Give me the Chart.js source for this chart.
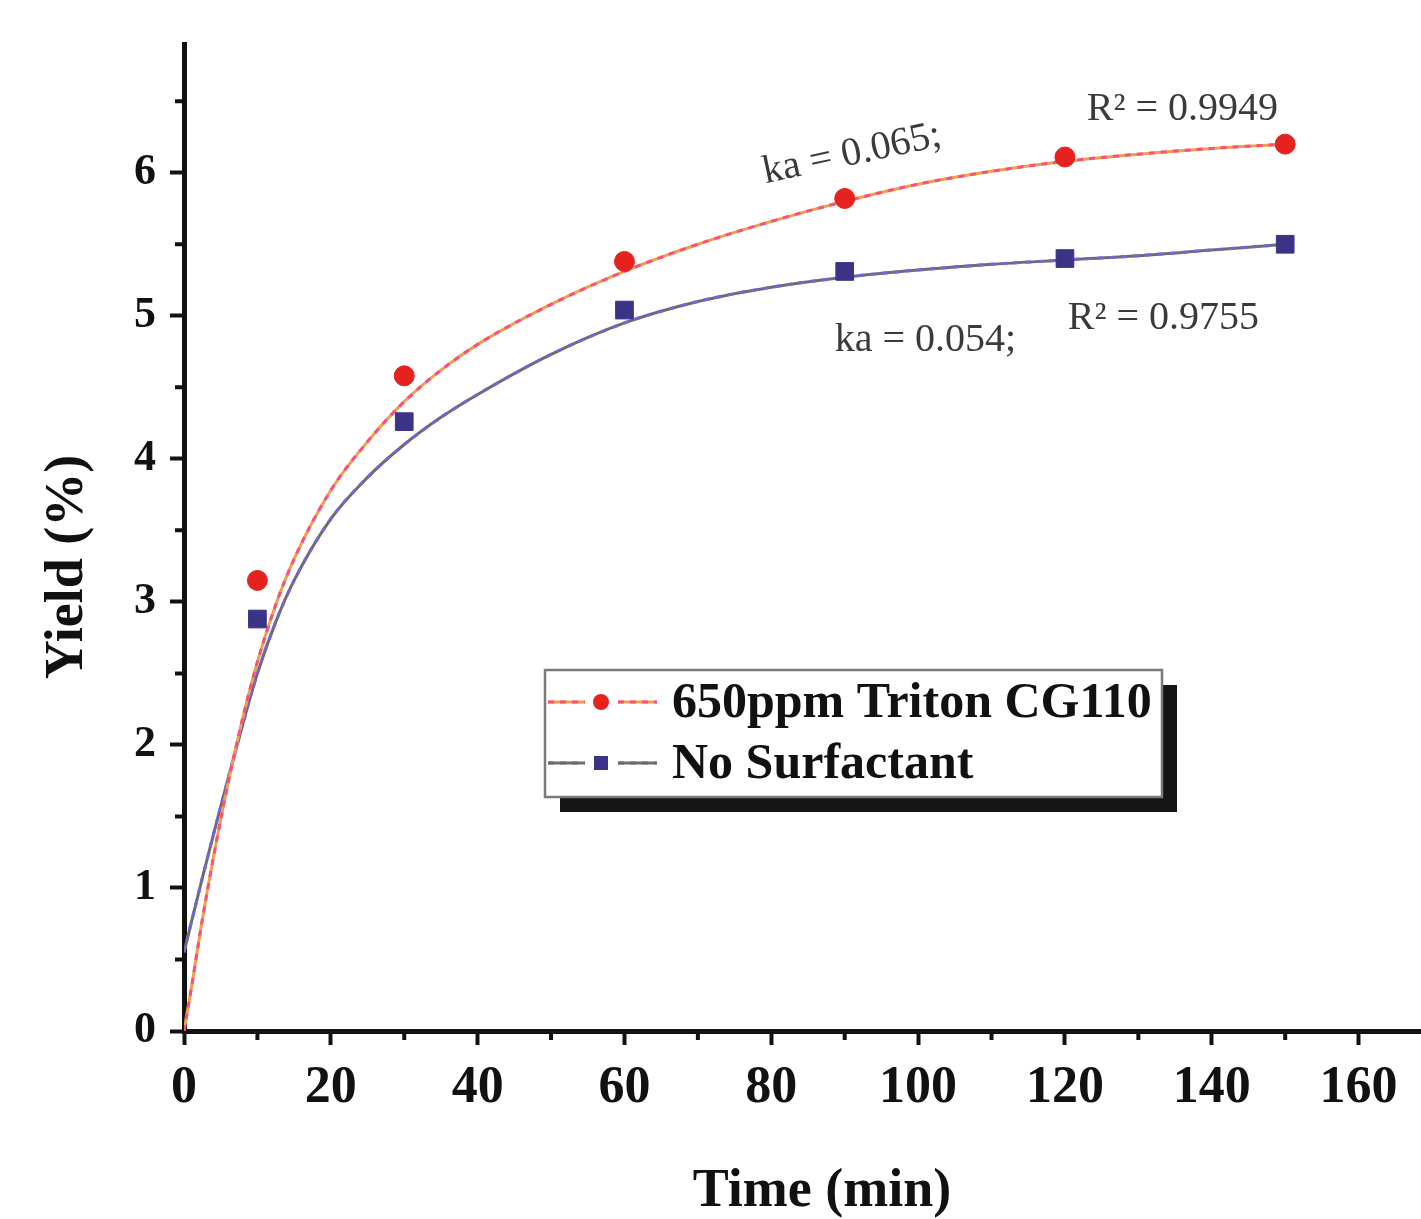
<!DOCTYPE html>
<html>
<head>
<meta charset="utf-8">
<script src="https://cdn.jsdelivr.net/npm/chart.js@4.4.1/dist/chart.umd.min.js"></script>
<style>
    html, body { margin: 0; padding: 0; background: #fff; }
    #wrap { width: 1421px; height: 1219px; }
</style>
</head>
<body>
<div id="wrap"><canvas id="Chart1" width="1421" height="1219"></canvas></div>
<script>
// measured points
const sampleTime = [10, 30, 60, 90, 120, 150];
const tritonYield = [3.15, 4.58, 5.38, 5.82, 6.11, 6.20];
const noSurfYield = [2.88, 4.26, 5.04, 5.31, 5.40, 5.50];

// fitted curves
const fitTime = [0, 1, 2.5, 5, 7.5, 10, 12.5, 15, 20, 25, 30, 35, 40, 50, 60, 70, 80, 90, 100, 110, 120, 130, 140, 150];
const tritonFit = [0, 0.3, 0.78, 1.48, 2.08, 2.58, 2.98, 3.3, 3.78, 4.12, 4.4, 4.62, 4.8, 5.08, 5.31, 5.5, 5.66, 5.8, 5.92, 6.01, 6.08, 6.13, 6.17, 6.2];
const noSurfFit = [0.55, 0.76, 1.07, 1.57, 2.05, 2.5, 2.86, 3.15, 3.58, 3.87, 4.1, 4.29, 4.45, 4.73, 4.95, 5.1, 5.2, 5.27, 5.32, 5.36, 5.39, 5.42, 5.46, 5.5];

const xTicks = [0, 20, 40, 60, 80, 100, 120, 140, 160];
const yTicks = [0, 1, 2, 3, 4, 5, 6];
const xMinor = [10, 30, 50, 70, 90, 110, 130, 150];
const yMinor = [0.5, 1.5, 2.5, 3.5, 4.5, 5.5, 6.5];

const seriesNames = ['650ppm Triton CG110', 'No Surfactant'];
const fitNotes = ['ka = 0.065;', 'R\u00b2 = 0.9949', 'ka = 0.054;', 'R\u00b2 = 0.9755'];
const xTitle = 'Time (min)';
const yTitle = 'Yield (%)';

const RED = '#e5221d';
const BLUE = '#3a3386';
const PINK = '#ff4d7d';
const ORANGE = '#e9a24c';
const GREY = '#6c6c6c';
const PURPLE = '#7165dc';
const SERIF = '"Liberation Serif", "Times New Roman", serif';

function pairs(xs, ys) {
    return xs.map((x, i) => ({x: x, y: ys[i]}));
}

const minorTicks = {
    id: 'minorTicks',
    afterDraw(chart) {
        const ctx = chart.ctx;
        const xs = chart.scales.x;
        const ys = chart.scales.y;
        ctx.save();
        ctx.strokeStyle = '#111';
        ctx.lineWidth = 4;
        ctx.beginPath();
        xMinor.forEach(v => {
            const px = xs.getPixelForValue(v);
            ctx.moveTo(px, ys.bottom);
            ctx.lineTo(px, ys.bottom + 9);
        });
        yMinor.forEach(v => {
            const py = ys.getPixelForValue(v);
            ctx.moveTo(xs.left, py);
            ctx.lineTo(xs.left - 9, py);
        });
        ctx.stroke();
        ctx.restore();
    }
};

// axis titles, drawn where the original puts them
const axisTitles = {
    id: 'axisTitles',
    afterDraw(chart) {
        const ctx = chart.ctx;
        ctx.save();
        ctx.fillStyle = '#111';
        ctx.font = 'bold 54px ' + SERIF;
        ctx.textAlign = 'center';
        ctx.textBaseline = 'middle';
        ctx.fillText(xTitle, 822, 1192);
        ctx.translate(68, 567);
        ctx.rotate(-Math.PI / 2);
        ctx.fillText(yTitle, 0, 0);
        ctx.restore();
    }
};

// text labels for the fits, placed in data units
const notePlaces = [
    {x: 91, y: 6.13, angle: -12},
    {x: 136, y: 6.44, angle: 0},
    {x: 101, y: 4.83, angle: 0},
    {x: 133.4, y: 4.98, angle: 0}
];

const fitLabels = {
    id: 'fitLabels',
    afterDatasetsDraw(chart) {
        const ctx = chart.ctx;
        const xs = chart.scales.x;
        const ys = chart.scales.y;
        ctx.save();
        ctx.fillStyle = '#3a3a3a';
        ctx.font = '40px ' + SERIF;
        ctx.textAlign = 'center';
        ctx.textBaseline = 'middle';
        fitNotes.forEach((t, i) => {
            const p = notePlaces[i];
            ctx.save();
            ctx.translate(xs.getPixelForValue(p.x), ys.getPixelForValue(p.y));
            ctx.rotate(p.angle * Math.PI / 180);
            ctx.fillText(t, 0, 0);
            ctx.restore();
        });
        ctx.restore();
    }
};

const boxLegend = {
    id: 'boxLegend',
    afterDraw(chart) {
        const ctx = chart.ctx;
        const bx = 545, by = 670, bw = 617, bh = 127;
        ctx.save();
        ctx.fillStyle = '#151515';
        ctx.fillRect(bx + 15, by + 15, bw, bh);
        ctx.fillStyle = '#fff';
        ctx.fillRect(bx, by, bw, bh);
        ctx.strokeStyle = '#7a7a7a';
        ctx.lineWidth = 2.5;
        ctx.strokeRect(bx, by, bw, bh);

        const rows = [
            {y: by + 32, line1: ORANGE, line2: PINK, mark: RED, style: 'circle'},
            {y: by + 93, line1: GREY, line2: GREY, mark: BLUE, style: 'rect'}
        ];
        rows.forEach((r, i) => {
            ctx.lineWidth = 3;
            ctx.strokeStyle = r.line1;
            ctx.beginPath();
            ctx.moveTo(bx + 3, r.y); ctx.lineTo(bx + 40, r.y);
            ctx.moveTo(bx + 73, r.y); ctx.lineTo(bx + 112, r.y);
            ctx.stroke();
            ctx.strokeStyle = r.line2;
            ctx.setLineDash([6, 6]);
            ctx.stroke();
            ctx.setLineDash([]);
            ctx.fillStyle = r.mark;
            if (r.style === 'circle') {
                ctx.beginPath();
                ctx.arc(bx + 56, r.y, 8, 0, Math.PI * 2);
                ctx.fill();
            } else {
                ctx.fillRect(bx + 49, r.y - 7, 14, 14);
            }
            ctx.fillStyle = '#111';
            ctx.font = 'bold 50px ' + SERIF;
            ctx.textAlign = 'left';
            ctx.textBaseline = 'middle';
            ctx.fillText(seriesNames[i], bx + 127, r.y + 2);
        });
        ctx.restore();
    }
};

const ctx = document.getElementById('Chart1').getContext('2d');
const yieldChart = new Chart(ctx, {
    type: 'scatter',
    data: {
        datasets: [{
                label: seriesNames[0],
                data: pairs(sampleTime, tritonYield),
                pointStyle: 'circle',
                pointRadius: 10,
                backgroundColor: RED,
                borderColor: RED,
                borderWidth: 1
            }, {
                label: seriesNames[1],
                data: pairs(sampleTime, noSurfYield),
                pointStyle: 'rect',
                pointRadius: 12.5,
                backgroundColor: BLUE,
                borderColor: BLUE,
                borderWidth: 1
            }, {
                label: 'triton fit dash',
                data: pairs(fitTime, tritonFit),
                showLine: true,
                pointRadius: 0,
                borderColor: PINK,
                borderWidth: 3,
                borderDash: [6, 6],
                cubicInterpolationMode: 'monotone'
            }, {
                label: 'triton fit',
                data: pairs(fitTime, tritonFit),
                showLine: true,
                pointRadius: 0,
                borderColor: ORANGE,
                borderWidth: 3,
                cubicInterpolationMode: 'monotone'
            }, {
                label: 'no surfactant fit dash',
                data: pairs(fitTime, noSurfFit),
                showLine: true,
                pointRadius: 0,
                borderColor: PURPLE,
                borderWidth: 3,
                borderDash: [6, 6],
                cubicInterpolationMode: 'monotone'
            }, {
                label: 'no surfactant fit',
                data: pairs(fitTime, noSurfFit),
                showLine: true,
                pointRadius: 0,
                borderColor: GREY,
                borderWidth: 3,
                cubicInterpolationMode: 'monotone'
            }]
    },
    options: {
        responsive: false,
        animation: false,
        devicePixelRatio: 1,
        layout: {autoPadding: false, padding: {top: 44, right: 0, left: 0, bottom: 0}},
        plugins: {
            legend: {display: false},
            tooltip: {enabled: false}
        },
        scales: {
            x: {
                type: 'linear',
                min: 0,
                max: 168.5,
                afterFit: s => { s.height = 188; },
                afterBuildTicks: s => { s.ticks = xTicks.map(v => ({value: v})); },
                border: {display: true, color: '#111', width: 5},
                grid: {drawOnChartArea: false, tickLength: 14, tickWidth: 4, tickColor: '#111'},
                ticks: {
                    color: '#111',
                    padding: 12,
                    maxRotation: 0,
                    font: {family: SERIF, size: 52, weight: 'bold'}
                },
                title: {display: false}
            },
            y: {
                type: 'linear',
                min: 0,
                max: 6.9,
                afterFit: s => { s.width = 184; },
                afterBuildTicks: s => { s.ticks = yTicks.map(v => ({value: v})); },
                border: {display: true, color: '#111', width: 5},
                grid: {drawOnChartArea: false, tickLength: 14, tickWidth: 4, tickColor: '#111'},
                ticks: {
                    color: '#111',
                    padding: 14,
                    font: {family: SERIF, size: 44, weight: 'bold'}
                },
                title: {display: false}
            }
        }
    },
    plugins: [minorTicks, fitLabels, boxLegend, axisTitles]
});
</script>
</body>
</html>
